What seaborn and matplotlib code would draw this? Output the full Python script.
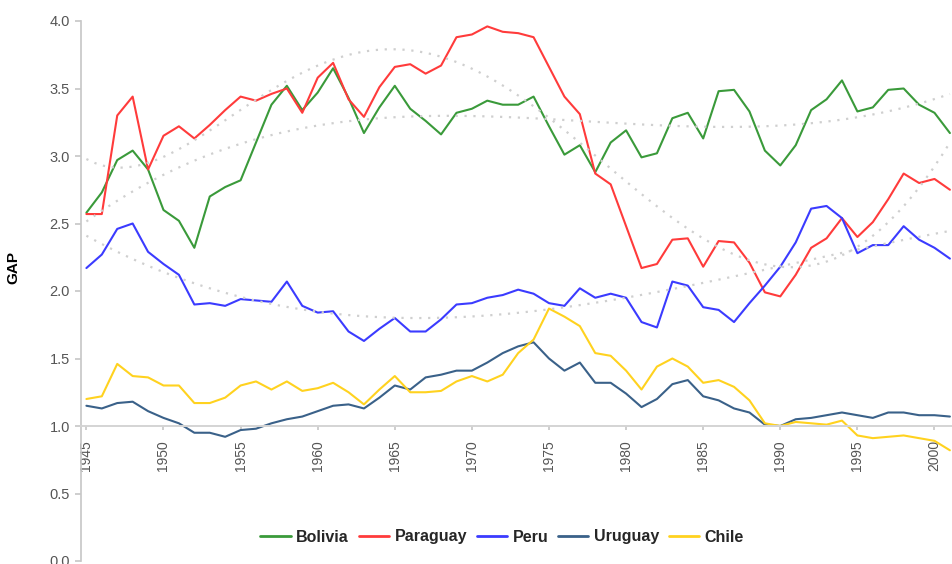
#---IMPORT SECTION---
import numpy as np
import pandas as pd
import matplotlib
matplotlib.use("Agg")
import matplotlib.pyplot as plt
import seaborn as sns
#---END OF IMPORT SECTION---

#Data (GAP by year)
years = list(range(1945, 2002))

bolivia = [2.58, 2.73, 2.97, 3.04, 2.90, 2.60, 2.52, 2.32, 2.70, 2.77,
           2.82, 3.10, 3.38, 3.52, 3.34, 3.47, 3.65, 3.43, 3.17,
           3.36, 3.52, 3.35, 3.26, 3.16, 3.32, 3.35, 3.41, 3.38, 3.38,
           3.44, 3.22, 3.01, 3.08, 2.88, 3.10, 3.19, 2.99,
           3.02, 3.28, 3.32, 3.13, 3.48, 3.49, 3.33, 3.04, 2.93, 3.08,
           3.34, 3.42, 3.56, 3.33, 3.36, 3.49, 3.50, 3.38, 3.32, 3.17]

paraguay = [2.57, 2.57, 3.30, 3.44, 2.90, 3.15, 3.22, 3.13, 3.23, 3.34,
            3.44, 3.41, 3.46, 3.50, 3.32, 3.58, 3.69, 3.42, 3.29,
            3.51, 3.66, 3.68, 3.61, 3.67, 3.88, 3.90, 3.96, 3.92, 3.91,
            3.88, 3.66, 3.44, 3.31, 2.87, 2.79, 2.48, 2.17,
            2.20, 2.38, 2.39, 2.18, 2.37, 2.36, 2.21, 1.99, 1.96, 2.12,
            2.32, 2.39, 2.54, 2.40, 2.51, 2.68, 2.87, 2.80, 2.83, 2.75]

peru = [2.17, 2.27, 2.46, 2.50, 2.29, 2.20, 2.12, 1.90, 1.91, 1.89,
        1.94, 1.93, 1.92, 2.07, 1.89, 1.84, 1.85, 1.70, 1.63,
        1.72, 1.80, 1.70, 1.70, 1.79, 1.90, 1.91, 1.95, 1.97, 2.01,
        1.98, 1.91, 1.89, 2.02, 1.95, 1.98, 1.95, 1.77,
        1.73, 2.07, 2.04, 1.88, 1.86, 1.77, 1.91, 2.04, 2.18, 2.36,
        2.61, 2.63, 2.54, 2.28, 2.34, 2.34, 2.48, 2.38, 2.32, 2.24]

uruguay = [1.15, 1.13, 1.17, 1.18, 1.11, 1.06, 1.02, 0.95, 0.95, 0.92,
           0.97, 0.98, 1.02, 1.05, 1.07, 1.11, 1.15, 1.16, 1.13,
           1.21, 1.30, 1.27, 1.36, 1.38, 1.41, 1.41, 1.47, 1.54, 1.59,
           1.62, 1.50, 1.41, 1.47, 1.32, 1.32, 1.24, 1.14,
           1.20, 1.31, 1.34, 1.22, 1.19, 1.13, 1.10, 1.01, 1.00, 1.05,
           1.06, 1.08, 1.10, 1.08, 1.06, 1.10, 1.10, 1.08, 1.08, 1.07]

chile = [1.20, 1.22, 1.46, 1.37, 1.36, 1.30, 1.30, 1.17, 1.17, 1.21,
         1.30, 1.33, 1.27, 1.33, 1.26, 1.28, 1.32, 1.25, 1.16,
         1.27, 1.37, 1.25, 1.25, 1.26, 1.33, 1.37, 1.33, 1.38, 1.54,
         1.64, 1.87, 1.81, 1.74, 1.54, 1.52, 1.41, 1.27,
         1.44, 1.50, 1.44, 1.32, 1.34, 1.29, 1.19, 1.02, 1.00, 1.03,
         1.02, 1.01, 1.04, 0.93, 0.91, 0.92, 0.93, 0.91, 0.89, 0.82]

countries = ["Bolivia", "Paraguay", "Peru", "Uruguay", "Chile"]
colors = ["#3a9a3a", "#ff3b3b", "#3b3bff", "#3a6189", "#ffd21f"]
x_ticks = list(range(1945, 2001, 5))
y_ticks = [0.0, 0.5, 1.0, 1.5, 2.0, 2.5, 3.0, 3.5, 4.0]

#Long-form table for seaborn
series = {"Bolivia": bolivia, "Paraguay": paraguay, "Peru": peru,
          "Uruguay": uruguay, "Chile": chile}
df = pd.concat([pd.DataFrame({"year": years, "GAP": vals, "country": name})
                for name, vals in series.items()], ignore_index=True)

sns.set_theme(style="white")
plt.rcParams["font.family"] = ["Liberation Sans", "DejaVu Sans"]

fig = plt.figure(figsize=(9.53, 5.64), dpi=100)
ax = fig.add_axes([81 / 953, 3 / 564, 872 / 953, 540 / 564])

sns.lineplot(data=df, x="year", y="GAP", hue="country", hue_order=countries,
             palette=colors, linewidth=1.5, ax=ax)
handles, labels = ax.get_legend_handles_labels()
ax.get_legend().remove()

#Polynomial trend lines (dotted grey, drawn over the series)
trend_orders = {"Bolivia": 3, "Paraguay": 5, "Peru": 3}
for name, order in trend_orders.items():
    sub = df[df["country"] == name]
    sns.regplot(data=sub, x="year", y="GAP", order=order, scatter=False, ci=None,
                ax=ax, line_kws={"color": "#cfcfcf", "linewidth": 1.6,
                                 "linestyle": (0, (1, 3)), "zorder": 5})

ax.set_xlim(1944.65, 2001.2)
ax.set_ylim(0, 4)
ax.set_xticks(x_ticks)
ax.set_yticks(y_ticks)
ax.set_yticklabels([f"{v:.1f}" for v in y_ticks])

ax.spines["top"].set_visible(False)
ax.spines["right"].set_visible(False)
ax.spines["left"].set_color("#c8c8c8")
ax.spines["bottom"].set_position(("data", 1.0))
ax.spines["bottom"].set_color("#d4d4d4")
ax.spines["bottom"].set_linewidth(1.4)

ax.tick_params(axis="x", bottom=True, length=3, color="#c8c8c8", pad=7,
               labelrotation=90, labelsize=10, labelcolor="#555555")
ax.tick_params(axis="y", left=True, length=4, color="#c8c8c8", pad=4,
               labelsize=10.5, labelcolor="#555555")

ax.set_xlabel("")
ax.set_ylabel("GAP", fontsize=11, fontweight="bold", color="black")
ax.yaxis.set_label_coords(-0.07, 0.543)

leg = ax.legend(handles, labels, loc="center", bbox_to_anchor=(502 / 953, 27 / 564),
                bbox_transform=fig.transFigure, ncol=5, frameon=False,
                handlelength=1.9, handletextpad=0.35, columnspacing=0.6,
                prop={"weight": "bold", "size": 11.5})
for line in leg.get_lines():
    line.set_linewidth(2)

fig.savefig("out.png", dpi=100)
